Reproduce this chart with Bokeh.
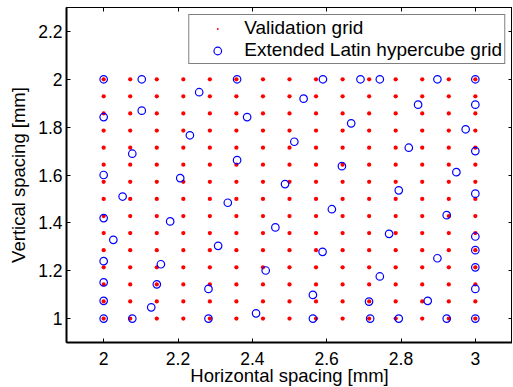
from bokeh.plotting import figure
from bokeh.models import LinearAxis, Range1d, FixedTicker, ColumnDataSource, Legend, LegendItem
from bokeh.embed import file_html
from bokeh.resources import INLINE

# Validation grid levels (15 x 15)
grid_x = [2.0, 2.0714, 2.1429, 2.2143, 2.2857, 2.3571, 2.4286, 2.5,
          2.5714, 2.6429, 2.7143, 2.7857, 2.8571, 2.9286, 3.0]
grid_y = [1.0, 1.0714, 1.1429, 1.2143, 1.2857, 1.3571, 1.4286, 1.5,
          1.5714, 1.6429, 1.7143, 1.7857, 1.8571, 1.9286, 2.0]

# Extended Latin hypercube grid points
lhs_x = [2.0, 2.1025, 2.359, 2.257, 2.0, 2.1025, 2.386, 2.538, 2.232, 2.513,
         2.077, 2.359, 2.0, 2.206, 2.488, 2.051, 2.590, 2.691, 2.743, 2.898,
         3.0, 2.846, 3.0, 2.666, 2.974, 2.821, 3.0, 2.641, 2.949, 2.794,
         3.0, 2.334, 2.0, 2.179, 2.462, 2.026, 2.308, 2.0, 2.154, 2.436,
         2.0, 2.143, 2.282, 2.563, 2.0, 2.128, 2.410, 2.0, 2.077, 2.282,
         2.563, 2.614, 2.923, 2.768, 3.0, 2.589, 3.0, 2.898, 3.0, 2.743,
         3.0, 2.714, 2.872, 2.717, 2.794, 2.923, 3.0]
lhs_y = [2.0, 2.0, 2.0, 1.946, 1.842, 1.869, 1.842, 1.919, 1.766, 1.739,
         1.689, 1.662, 1.600, 1.587, 1.562, 1.510, 2.0, 2.0, 2.0, 2.0,
         2.0, 1.894, 1.894, 1.816, 1.791, 1.714, 1.700, 1.637, 1.612, 1.536,
         1.522, 1.484, 1.420, 1.406, 1.381, 1.329, 1.304, 1.240, 1.227, 1.201,
         1.151, 1.143, 1.124, 1.099, 1.074, 1.047, 1.022, 1.0, 1.0, 1.0,
         1.0, 1.457, 1.432, 1.354, 1.343, 1.279, 1.286, 1.252, 1.214, 1.176,
         1.124, 1.071, 1.074, 1.0, 1.0, 1.0, 1.0]

x_ticks = [2.0, 2.2, 2.4, 2.6, 2.8, 3.0]
y_ticks = [1.0, 1.2, 1.4, 1.6, 1.8, 2.0, 2.2]
x_tick_labels = {2.0: "2", 2.2: "2.2", 2.4: "2.4", 2.6: "2.6", 2.8: "2.8", 3.0: "3"}
y_tick_labels = {1.0: "1", 1.2: "1.2", 1.4: "1.4", 1.6: "1.6", 1.8: "1.8", 2.0: "2", 2.2: "2.2"}

vx = [gx for gy in grid_y for gx in grid_x]
vy = [gy for gy in grid_y for gx in grid_x]

FONT = "Liberation Sans"
TICK_FS = "17.5px"
LABEL_FS = "18.5px"

p = figure(frame_width=446, frame_height=335, output_backend="svg",
           toolbar_location=None, x_range=Range1d(1.9, 3.1), y_range=Range1d(0.9, 2.3),
           min_border_left=66, min_border_right=0, min_border_top=7, min_border_bottom=0)
p.xgrid.visible = False
p.ygrid.visible = False
p.outline_line_color = "black"
p.outline_line_width = 1
p.background_fill_color = "white"
p.border_fill_color = "white"

src_v = ColumnDataSource(dict(x=vx, y=vy))
src_l = ColumnDataSource(dict(x=lhs_x, y=lhs_y))
r1 = p.scatter("x", "y", source=src_v, marker="dot", size=17, color="red")
r2 = p.scatter("x", "y", source=src_l, size=7.5, fill_color=None, line_color="blue", line_width=1.2)

def style(ax, labels=True, lw=2):
    ax.major_tick_in = 4
    ax.major_tick_out = 0
    ax.minor_tick_line_color = None
    ax.axis_line_color = "black"
    ax.axis_line_width = lw
    ax.major_tick_line_color = "black"
    ax.major_label_text_color = "black"
    ax.major_label_text_font = FONT
    ax.major_label_text_font_size = TICK_FS if labels else "0px"
    ax.axis_label_text_font = FONT
    ax.axis_label_text_font_size = LABEL_FS
    ax.axis_label_text_font_style = "normal"
    ax.axis_label_text_color = "black"

xa = p.xaxis[0]
xa.ticker = FixedTicker(ticks=x_ticks)
xa.major_label_overrides = x_tick_labels
xa.axis_label = "Horizontal spacing [mm]"
style(xa)
xa.major_label_standoff = 9
xa.axis_label_standoff = -3

ya = p.yaxis[0]
ya.ticker = FixedTicker(ticks=y_ticks)
ya.major_label_overrides = y_tick_labels
ya.axis_label = "Vertical spacing [mm]"
style(ya)
ya.major_label_standoff = 4
ya.axis_label_standoff = 6

top = LinearAxis(ticker=FixedTicker(ticks=x_ticks))
style(top, labels=False, lw=1)
top.major_label_standoff = 0
top.major_label_text_alpha = 0
p.add_layout(top, "above")
right = LinearAxis(ticker=FixedTicker(ticks=y_ticks))
style(right, labels=False, lw=1)
right.major_label_standoff = 0
right.major_label_text_alpha = 0
p.add_layout(right, "right")

legend = Legend(items=[LegendItem(label="Validation grid", renderers=[r1]),
                       LegendItem(label="Extended Latin hypercube grid", renderers=[r2])],
                location="top_right")
legend.margin = 7
legend.padding = 2
legend.spacing = 0
legend.glyph_width = 52
legend.glyph_height = 19
legend.label_height = 22
legend.label_standoff = 1
legend.label_text_font = FONT
legend.label_text_font_size = "19px"
legend.label_text_color = "black"
legend.border_line_color = "black"
legend.border_line_width = 1
legend.background_fill_alpha = 1
p.add_layout(legend)

open("out.html", "w").write(file_html(p, INLINE))
